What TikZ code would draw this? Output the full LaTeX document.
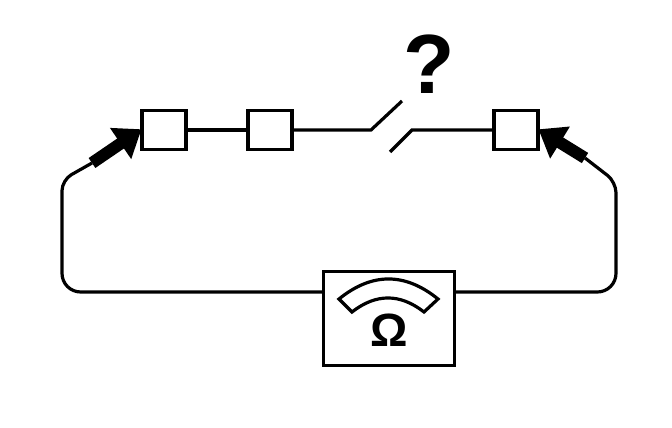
\documentclass[tikz,border=0pt]{standalone}
\usepackage{fontspec}
\setmainfont{Liberation Sans}
\usetikzlibrary{arrows.meta}
\tikzset{
  wire/.style={line width=2.4pt},
  part/.style={draw,line width=2.4pt,fill=white,minimum width=33pt,minimum height=29pt,inner sep=0pt},
  probe/.style={line width=9pt,-{Triangle[length=19pt,width=27pt]},shorten >=-1pt},
}
\begin{document}
\begin{tikzpicture}[x=0.75pt,y=-0.75pt,node distance=79.5pt]
  \useasboundingbox (0,0) rectangle (672,428);

  \node[part] (b1) at (164,130) {};
  \node[part] (b2) [right of=b1] {};
  \node[part] (b3) at (516,130) {};
  \node[draw,line width=2.4pt,minimum width=98pt,minimum height=70.5pt,inner sep=0pt] (meter) at (389,318.5) {};
  \node (omega) at (389,330) {\fontsize{35}{35}\selectfont\bfseries Ω};
  \node (ask) at (429,64) {\fontsize{63}{63}\selectfont\bfseries ?};

  \coordinate (probeL) at (92,163);
  \coordinate (probeR) at (585,158);
  \coordinate (swL) at (402,101);
  \coordinate (swR) at (390,152);

  % chain and open switch
  \draw[wire] (b1.east) -- (b2.west);
  \draw[wire] (b2.east) -- (371,130) -- (swL);
  \draw[wire] (swR) -- (412,130) -- (b3.west);

  % leads
  \draw[wire,rounded corners=14pt] (meter.west |- 0,292) -- (62,292) [rounded corners=8pt] -- (62,180) -- (probeL);
  \draw[wire,rounded corners=14pt] (meter.east |- 0,292) -- (616,292) [rounded corners=8pt] -- (616,182) -- (probeR);
  \draw[probe] (probeL) -- (b1.west);
  \draw[probe] (probeR) -- (b3.east);

  % dial
  \draw[wire,line join=miter] (339,299) .. controls (372,272.3) and (405,272.3) .. (438,299)
    -- (424,312) .. controls (400,293.3) and (376,293.3) .. (352,312) -- cycle;
\end{tikzpicture}
\end{document}
